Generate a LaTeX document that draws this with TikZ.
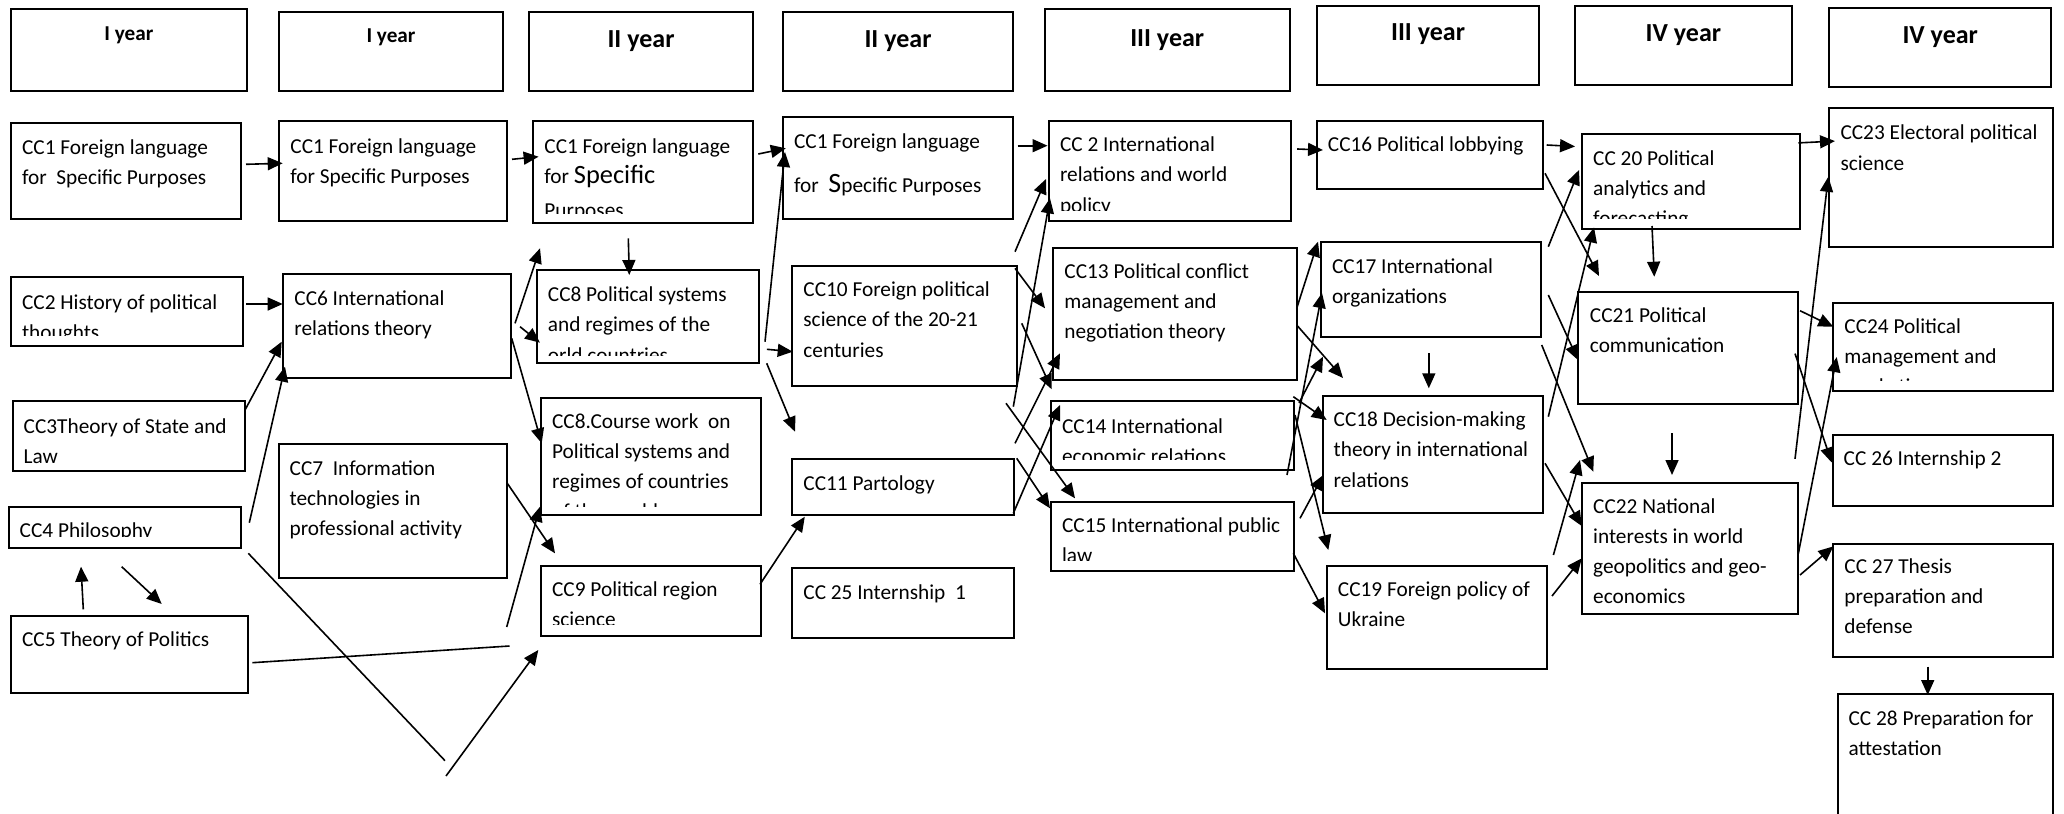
\documentclass[tikz,border=0pt]{standalone}
\usepackage{fontspec}
\setmainfont{Carlito}
\usetikzlibrary{arrows.meta}
\tikzset{
  bx/.style={draw, line width=1pt, inner sep=0pt, outer sep=0pt},
  tx/.style={anchor=base west, inner sep=0pt, font=\fontsize{10.65}{15.1}\selectfont},
  hdbig/.style={anchor=base, inner sep=0pt, font=\bfseries\fontsize{13}{15}\selectfont},
  hdsmall/.style={anchor=base, inner sep=0pt, font=\bfseries\fontsize{10.6}{13}\selectfont},
  arr/.style={-{Triangle[length=7.5pt,width=6.5pt]}, line width=0.8pt},
  ln/.style={line width=0.8pt}
}
\newcommand\bx[5]{\node[bx,anchor=north west,minimum width={(#4-#2)*0.5pt},minimum height={(#5-#3)*0.5pt}] (#1) at (#2,#3) {};}
\newcommand\tx[4]{\node[tx] (#1) at (#2,#3) {\begin{tabular}[t]{@{}l@{}}#4\end{tabular}};}
\newcommand\ctx[5]{\begin{scope}\clip (#2-20,#3-40) rectangle (#2+330,#5);\node[tx] (#1) at (#2,#3) {\begin{tabular}[t]{@{}l@{}}#4\end{tabular}};\end{scope}}
\newcommand\ar[4]{\draw[arr] (#1,#2) -- (#3,#4);}
\begin{document}
\begin{tikzpicture}[x=0.5pt,y=-0.5pt]
\fill[white] (0,0) rectangle (2064,813);
\useasboundingbox (0,0) rectangle (2064,813);
% headers
\bx{h1}{10.7}{9.3}{247}{90.7}
\bx{h2}{278.7}{11.7}{503.3}{90.7}
\bx{h3}{528.6}{11.7}{753.4}{90.7}
\bx{h4}{782.7}{11.7}{1013.4}{90.7}
\bx{h5}{1044.8}{9.3}{1289.6}{90.7}
\bx{h6}{1316.8}{5.7}{1539.3}{84.7}
\bx{h7}{1575.1}{5.7}{1791.7}{84.7}
\bx{h8}{1829.1}{8.3}{2051.4}{87.3}
\node[hdsmall] (h1t) at (128.9,40.7) {I year};
\node[hdsmall] (h2t) at (391,42.7) {I year};
\node[hdbig] (h3t) at (641,47.3) {II year};
\node[hdbig] (h4t) at (898,47.3) {II year};
\node[hdbig] (h5t) at (1167.2,46.7) {III year};
\node[hdbig] (h6t) at (1428,40.7) {III year};
\node[hdbig] (h7t) at (1683.4,41.7) {IV year};
\node[hdbig] (h8t) at (1940.2,44) {IV year};
% boxes
\bx{cc1a}{10.7}{122.7}{241.3}{218.7}
\bx{cc1b}{278.7}{120.7}{507.3}{220.7}
\bx{cc1c}{532.7}{120.7}{753.4}{222.7}
\bx{cc1d}{782.7}{116.7}{1013.4}{218.7}
\bx{cc2}{10.7}{277.3}{243.3}{346}
\bx{cc6}{282.7}{274}{511.3}{378.3}
\bx{cc3}{12.7}{401}{245}{471}
\bx{cc4}{9}{507}{241}{548}
\bx{cc5}{11}{616}{247.7}{693.3}
\bx{cc7}{278.7}{444}{507.3}{578.3}
\bx{cc8}{536.8}{270}{759}{362.7}
\bx{cc8cw}{541}{397.7}{761}{515}
\bx{cc9}{541}{566}{761}{635.5}
\bx{cc10}{792.4}{265.7}{1016.5}{385.7}
\bx{cc11}{792.4}{459.3}{1013.8}{515}
\bx{cc25}{792.4}{568.3}{1014.1}{637.7}
\bx{cc2int}{1048.9}{120.7}{1291.3}{221}
\bx{cc13}{1053.4}{247.5}{1297.2}{379.7}
\bx{cc14}{1051.3}{401.3}{1293.5}{470}
\bx{cc15}{1051.3}{502.3}{1293.5}{571}
\bx{cc16}{1316.8}{120.7}{1543.4}{189.3}
\bx{cc17}{1320.7}{241.7}{1541}{336.7}
\bx{cc18}{1323.3}{396}{1543.4}{512.7}
\bx{cc19}{1327.2}{565.7}{1547.4}{669.3}
\bx{cc20}{1581.8}{134.3}{1800}{229.3}
\bx{cc21}{1578.4}{291.7}{1798}{404.3}
\bx{cc22}{1581.8}{483.3}{1798.4}{614.3}
\bx{cc23}{1829.3}{108.3}{2053}{247.3}
\bx{cc24}{1833.1}{302.7}{2053}{391}
\bx{cc26}{1833.2}{435}{2053}{506}
\bx{cc27}{1833.2}{544.2}{2053}{656.8}
\bx{cc28}{1837.5}{694.3}{2053}{822}
% texts
\tx{t1a}{21.7}{154}{CC1 Foreign language\\for\ \ Specific Purposes}
\tx{t1b}{290}{153.3}{CC1 Foreign language\\for Specific Purposes}
\ctx{t1c}{544}{153.3}{CC1 Foreign language\\for {\fontsize{13.2}{15.1}\selectfont Specific}\\[2pt]Purposes}{213}
\tx{t1d}{793.7}{148.3}{CC1 Foreign language\\[7.1pt]for\ \ {\fontsize{14}{15.1}\selectfont S}pecific Purposes}
\ctx{t2}{21.7}{309.3}{CC2 History of political\\thoughts}{335.5}
\tx{t6}{294}{305}{CC6 International\\relations theory}
\tx{t3}{23.3}{433.3}{CC3Theory of State and\\Law}
\ctx{t4}{19.3}{537}{CC4 Philosophy}{536.5}
\tx{t5}{21.7}{646.7}{CC5 Theory of Politics}
\tx{t7}{289.3}{475}{CC7\ \ Information\\technologies in\\professional activity}
\ctx{t8}{547.5}{301.7}{CC8 Political systems\\and regimes of the\\orld countries}{355}
\ctx{t8cw}{551.7}{428.3}{CC8.Course work\ \ on\\Political systems and\\regimes of countries\\of the world}{506}
\ctx{t9}{551.7}{596.7}{CC9 Political region\\science}{624.5}
\tx{t10}{803}{296.7}{CC10 Foreign political\\science of the 20-21\\centuries}
\tx{t11}{803}{490}{CC11 Partology}
\tx{t25}{803}{599.3}{CC 25 Internship\ \ 1}
\ctx{t2int}{1059.6}{151.7}{CC 2 International\\relations and world\\policy}{210}
\tx{t16}{1327.5}{151.7}{CC16 Political lobbying}
\tx{t13}{1064}{278.3}{CC13 Political conflict\\management and\\negotiation theory}
\tx{t17}{1331.6}{273.3}{CC17 International\\organizations}
\ctx{t14}{1061.7}{433.3}{CC14 International\\economic relations}{459.3}
\ctx{t15}{1061.7}{532.7}{CC15 International public\\law}{560}
\tx{t18}{1333.3}{426.7}{CC18 Decision-making\\theory in international\\relations}
\tx{t19}{1337.5}{596.7}{CC19 Foreign policy of\\Ukraine}
\ctx{t20}{1592.8}{165}{CC 20 Political\\analytics and\\forecasting}{218.3}
\tx{t21}{1589.5}{322.7}{CC21 Political\\communication}
\tx{t22}{1592.8}{513.3}{CC22 National\\interests in world\\geopolitics and geo-\\economics}
\tx{t23}{1840.1}{140}{CC23 Electoral political\\science}
\ctx{t24}{1844}{333.3}{CC24 Political\\management and\\marketing}{380}
\tx{t26}{1843.3}{465.5}{CC 26 Internship 2}
\tx{t27}{1844}{573.5}{CC 27 Thesis\\preparation and\\defense}
\tx{t28}{1848.2}{725}{CC 28 Preparation for\\attestation}
% connectors
\ar{246}{164.3}{282.7}{163.3}
\ar{246}{304}{282.7}{304}
\ar{245}{410}{281.7}{341.7}
\ar{249.3}{522.7}{285}{366.7}
\ar{83.3}{609.3}{81}{566.7}
\ar{121.7}{566.7}{161.7}{604}
\draw[ln] (252.3,662.7) -- (509.5,646);
\ar{506.7}{627}{540}{506.7}
\draw[ln] (248.3,553.3) -- (445,760.7);
\ar{446}{776}{538.3}{650}
\ar{507.3}{483.3}{555}{553.3}
\ar{512}{159.3}{538.6}{156.7}
\ar{515}{323.3}{540}{248.3}
\ar{520}{326.7}{540}{342.7}
\ar{511.7}{338.3}{541.7}{443.3}
\ar{628.3}{238.3}{629.3}{275}
\ar{758.3}{154}{785.8}{148.3}
\ar{765}{341.7}{785}{152}
\ar{766.9}{349.3}{792.7}{351.7}
\ar{766.7}{363.3}{795}{431.7}
\ar{760}{584.3}{804.8}{516.7}
\ar{1017.6}{145.7}{1047.5}{145.7}
\ar{1015}{251.7}{1046}{179}
\ar{1013.3}{406.7}{1050}{198.3}
\ar{1015}{268.3}{1045}{308.3}
\ar{1021.7}{323.3}{1051.7}{389.3}
\ar{1015}{443.3}{1060}{353.3}
\ar{1013.3}{513.3}{1060}{405}
\ar{1006}{403.3}{1075}{498.3}
\ar{1016.7}{458.3}{1050}{508.3}
\ar{1297.2}{149}{1323}{150}
\ar{1296.7}{308.3}{1318}{241.7}
\ar{1296.7}{325}{1343}{378}
\ar{1287}{475}{1322}{293}
\ar{1299}{403}{1323}{356.7}
\ar{1293.3}{396.7}{1326.7}{420}
\ar{1295}{415}{1328.3}{550}
\ar{1300}{518.3}{1323.3}{475}
\ar{1293.3}{553.3}{1325}{613.3}
\ar{1428.8}{353.3}{1428.8}{388.3}
\ar{1546.7}{145}{1575}{146.5}
\ar{1545}{173.3}{1599}{276}
\ar{1548.3}{246.7}{1579}{170}
\ar{1548.3}{416.7}{1594}{227.5}
\ar{1548.3}{295}{1578}{360}
\ar{1541.7}{345}{1593.3}{471.7}
\ar{1545}{463.3}{1581.7}{526}
\ar{1553.4}{555}{1580}{460}
\ar{1552}{596}{1581.8}{558.3}
\ar{1652}{226}{1654.3}{276.7}
\ar{1672}{433.3}{1672}{475}
\ar{1798.3}{142.9}{1835}{141.1}
\ar{1795}{458.9}{1828.3}{176.8}
\ar{1800}{310.7}{1833.3}{326.8}
\ar{1798.3}{553.6}{1836.7}{357.1}
\ar{1795}{353.6}{1831.7}{462.5}
\ar{1800}{575}{1833.3}{546.4}
\ar{1927.7}{666.7}{1927.7}{695}
\end{tikzpicture}
\end{document}
